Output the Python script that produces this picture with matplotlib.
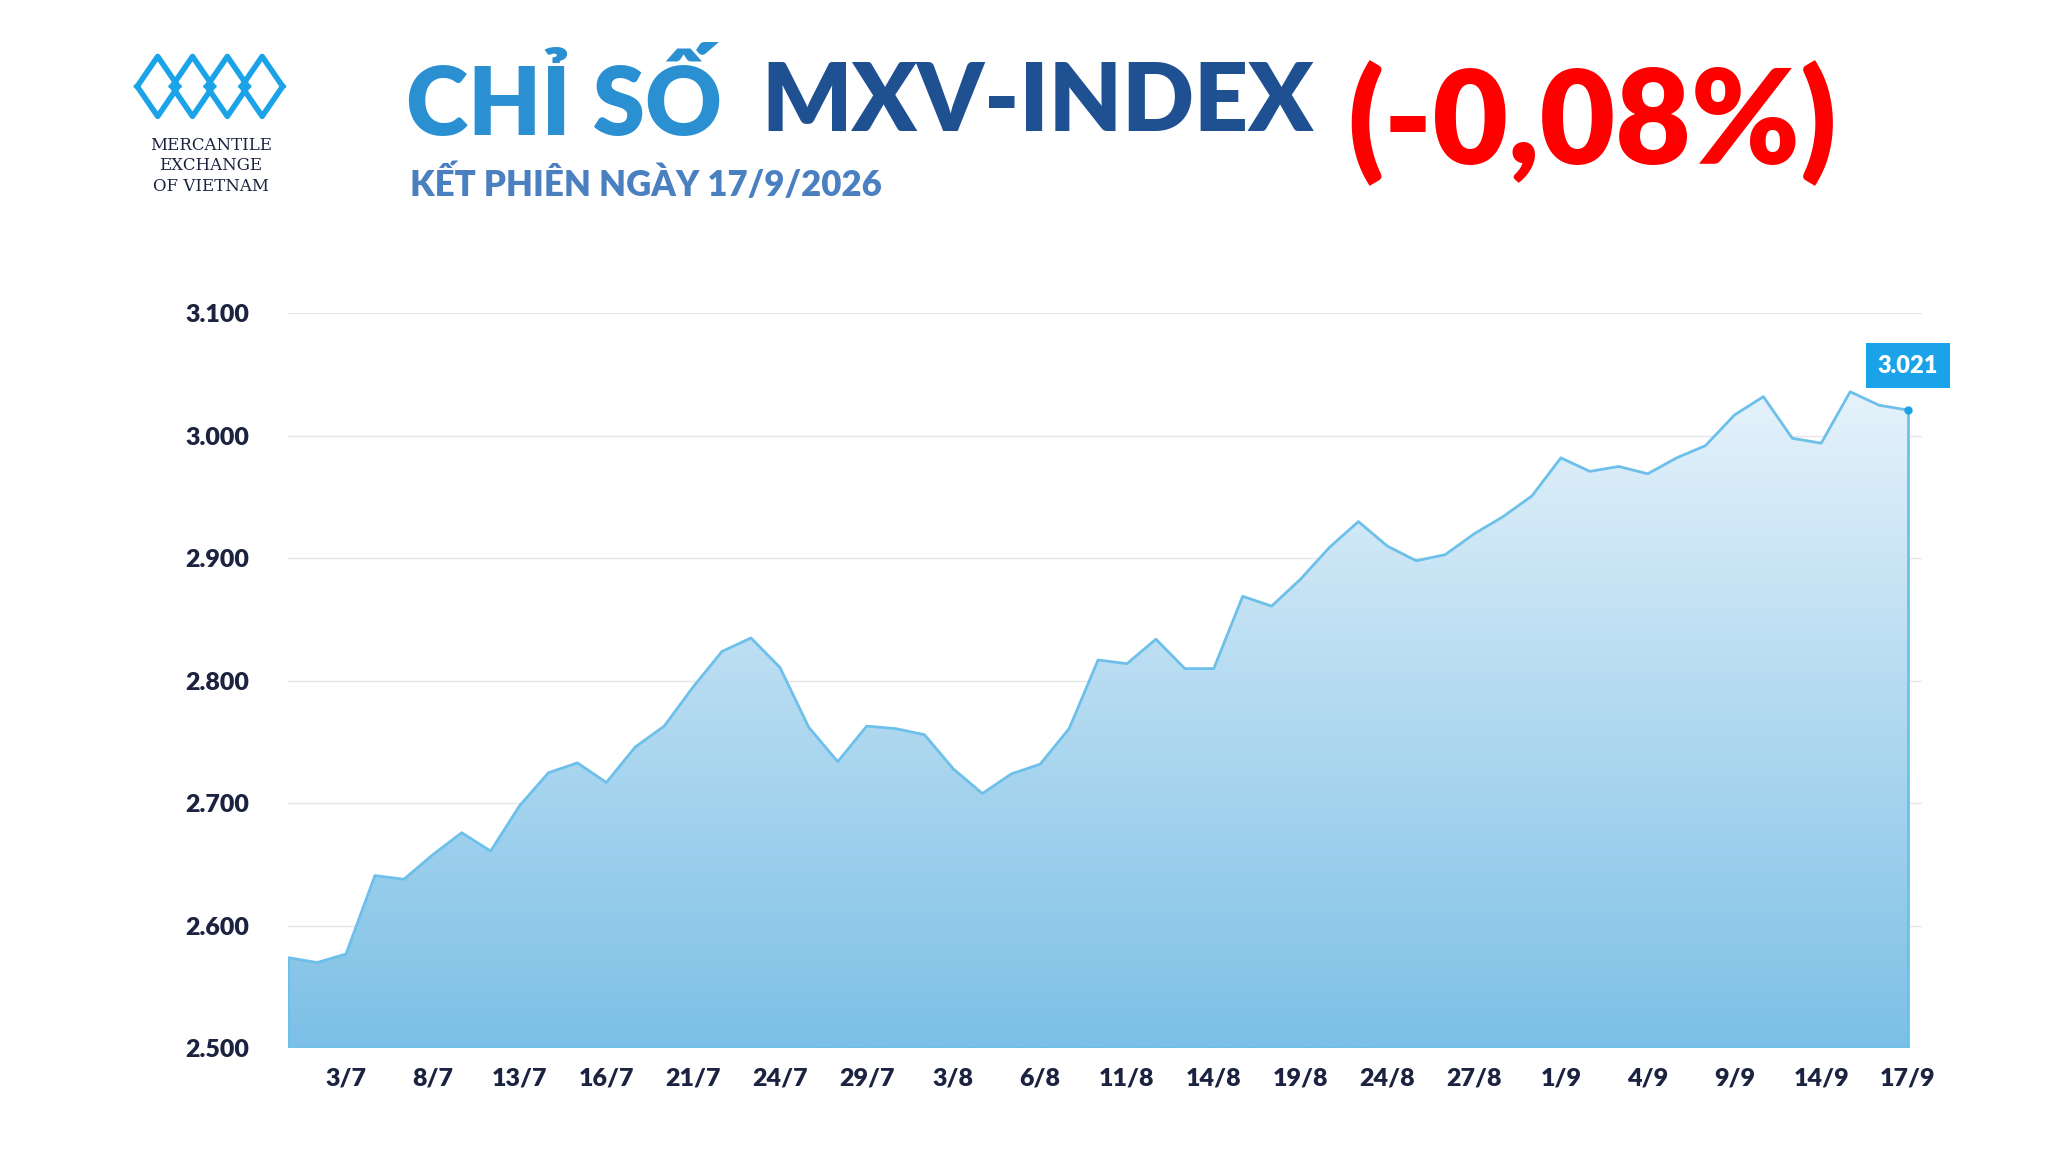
import numpy as np
import matplotlib.pyplot as plt
from matplotlib.patches import Polygon
from matplotlib.colors import LinearSegmentedColormap

values = [2574, 2570, 2577, 2641, 2638, 2658, 2676, 2661, 2698, 2725,
          2733, 2717, 2746, 2763, 2795, 2824, 2835, 2811, 2762, 2734,
          2763, 2761, 2756, 2728, 2708, 2724, 2732, 2761, 2817, 2814,
          2834, 2810, 2810, 2869, 2861, 2883, 2909, 2930, 2910, 2898,
          2903, 2920, 2934, 2951, 2982, 2971, 2975, 2969, 2982, 2992,
          3017, 3032, 2998, 2994, 3036, 3025, 3021]
tick_labels = ['3/7', '8/7', '13/7', '16/7', '21/7', '24/7', '29/7', '3/8', '6/8',
               '11/8', '14/8', '19/8', '24/8', '27/8', '1/9', '4/9', '9/9', '14/9', '17/9']
tick_idx = list(range(2, 57, 3))
y_ticks = [2500, 2600, 2700, 2800, 2900, 3000, 3100]

plt.rcParams['font.family'] = ['Lato', 'Open Sans', 'DejaVu Sans']

fig = plt.figure(figsize=(20.48, 11.52), dpi=100)
ax = fig.add_axes([0.1407, 0.090, 0.798, 0.638])
x = np.arange(len(values))

# gradient fill, light at top, darker at bottom
grad = np.linspace(0, 1, 256).reshape(-1, 1)
cmap = LinearSegmentedColormap.from_list('g', ['#f2f8fd', '#7cc0e6'])
im = ax.imshow(grad, cmap=cmap, aspect='auto', origin='upper',
               extent=[0, 56, 2500, 3100], zorder=1)
poly = Polygon(np.column_stack([np.r_[x, x[-1], 0], np.r_[values, 2500, 2500]]),
               closed=True, transform=ax.transData, facecolor='none', edgecolor='none')
ax.add_patch(poly)
im.set_clip_path(poly)
ax.set_xlim(0, 56.5)
ax.set_ylim(2500, 3100)
ax.plot(x, values, color='#6cc0ea', lw=2, zorder=3)
ax.plot([0, 0], [2500, values[0]], color='#6cc0ea', lw=2, zorder=3)
ax.plot([56, 56], [2500, values[-1]], color='#6cc0ea', lw=2, zorder=3)
ax.plot(56, values[-1], 'o', color='#1aa3e8', ms=5, zorder=4)
ax.plot([0, 56], [2500, 2500], color='#6cc0ea', lw=2, zorder=3)

ax.set_yticks(y_ticks)
ax.set_yticklabels([f'{v:,}'.replace(',', '.') for v in y_ticks])
ax.set_xticks(tick_idx)
ax.set_xticklabels(tick_labels)
ax.grid(axis='y', color='#e6e6e6', lw=1)
ax.set_axisbelow(True)
for s in ax.spines.values():
    s.set_visible(False)
ax.tick_params(length=0, labelsize=18, labelcolor='#1b2340', pad=14)
for t in ax.get_xticklabels() + ax.get_yticklabels():
    t.set_fontweight('heavy')
ax.tick_params(axis='y', pad=28)

ax.annotate(f'{values[-1]:,}'.replace(',', '.'), (56, values[-1]), xytext=(0, 32),
            textcoords='offset points', ha='center', va='center', fontsize=17,
            fontweight='heavy', color='white',
            bbox=dict(boxstyle='square,pad=0.5', fc='#1aa3e8', ec='none'))

# title
fig.text(0.198, 0.910, 'CHỈ SỐ', fontsize=68, fontweight='heavy', color='#2a90d2', va='center')
fig.text(0.372, 0.910, 'MXV-INDEX', fontsize=68, fontweight='heavy', color='#1f5192', va='center')
fig.text(0.658, 0.893, '(-0,08%)', fontsize=94, fontweight='heavy', color='#ff0000', va='center')
fig.text(0.200, 0.841, 'KẾT PHIÊN NGÀY 17/9/2026', fontsize=25, fontweight='heavy',
         color='#4a7fc0', va='center')

# logo
lx, ly = 0.103, 0.925
for k in range(4):
    cx = lx - 0.026 + k * 0.017
    fig.lines.append(plt.Line2D([cx - 0.010, cx, cx + 0.010], [ly, ly + 0.026, ly],
                                transform=fig.transFigure, color='#1aa3e8', lw=4))
    fig.lines.append(plt.Line2D([cx - 0.010, cx, cx + 0.010], [ly, ly - 0.026, ly],
                                transform=fig.transFigure, color='#1aa3e8', lw=4))
for j, s in enumerate(['MERCANTILE', 'EXCHANGE', 'OF VIETNAM']):
    fig.text(lx, 0.874 - j * 0.018, s, fontsize=12, family='DejaVu Serif',
             ha='center', va='center', color='#1b2340')

fig.savefig('out.png', dpi=100, facecolor='white')
